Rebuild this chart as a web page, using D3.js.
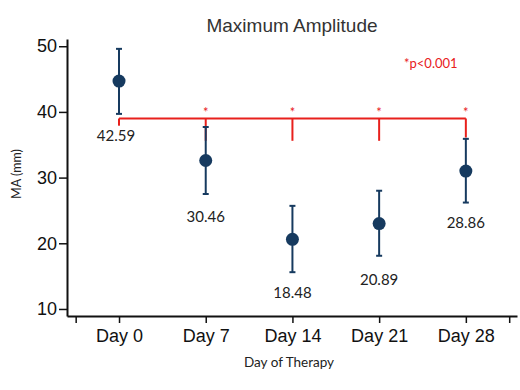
<!DOCTYPE html>
<html>
<head>
<meta charset="utf-8">
<script src="https://cdn.jsdelivr.net/npm/d3@7"></script>
<style>
  body { margin: 0; background: #fff; }
</style>
</head>
<body>
<div id="chart"></div>
<script>
// Data
const days = ['Day 0', 'Day 7', 'Day 14', 'Day 21', 'Day 28'];
const means = [44.7, 32.6, 20.6, 23.0, 31.0];
const errLow = [39.7, 27.5, 15.6, 18.1, 26.2];
const errHigh = [49.6, 37.7, 25.7, 28.0, 35.9];
const labels = ['42.59', '30.46', '18.48', '20.89', '28.86'];
const labelValues = [35.6, 23.2, 11.7, 13.65, 22.3];  // where each number label sits
const yTicks = [10, 20, 30, 40, 50];
const sigDays = [1, 2, 3, 4];       // days marked with *
const bracketValue = 39;
const dropValues = [37.9, 35.6, 35.6, 35.6, 36.1];  // where each bracket leg ends

const width = 520, height = 390;
const svg = d3.select('#chart').append('svg')
    .attr('width', width)
    .attr('height', height);

const x = d3.scaleLinear().domain([-0.6, 4.59]).range([67, 517]);
const y = d3.scaleLinear().domain([8.93, 51.1]).range([316, 39]);

const navy = '#163a5f';
const red = '#e8201c';

// Title
svg.append('text')
    .attr('x', 292).attr('y', 32)
    .attr('text-anchor', 'middle')
    .style('font-family', 'Liberation Sans, Arial, sans-serif')
    .style('font-size', '19px')
    .style('fill', '#333')
    .text('Maximum Amplitude');

// Y axis
const yAxis = svg.append('g')
    .attr('transform', 'translate(67,0)')
    .call(d3.axisLeft(y).tickValues(yTicks).tickSize(8).tickSizeOuter(0).tickPadding(2));
yAxis.select('.domain').attr('stroke', '#111').attr('stroke-width', 2);
yAxis.selectAll('.tick line').attr('stroke', '#111').attr('stroke-width', 1.5);
yAxis.selectAll('.tick text')
    .style('font-family', 'Liberation Sans, Arial, sans-serif')
    .style('font-size', '18px')
    .style('fill', '#111');

// X axis
const xTickVals = [-0.5, 0, 1, 2, 3, 4, 4.5];
const xAxis = svg.append('g')
    .attr('transform', 'translate(0,316)')
    .call(d3.axisBottom(x).tickValues(xTickVals).tickSize(7).tickSizeOuter(0).tickPadding(6)
        .tickFormat(d => Number.isInteger(d) ? days[d] : ''));
xAxis.select('.domain').attr('stroke', '#111').attr('stroke-width', 2);
xAxis.selectAll('.tick line').attr('stroke', '#111').attr('stroke-width', 1.5);
xAxis.selectAll('.tick text')
    .style('font-family', 'Liberation Sans, Arial, sans-serif')
    .style('font-size', '18px')
    .style('fill', '#111');

// Axis titles
svg.append('text')
    .attr('transform', 'translate(21,174) rotate(-90)')
    .attr('text-anchor', 'middle')
    .style('font-family', 'Lato, Open Sans, sans-serif')
    .style('font-size', '12.5px')
    .style('fill', '#222')
    .text('MA (mm)');

svg.append('text')
    .attr('x', 289).attr('y', 367)
    .attr('text-anchor', 'middle')
    .style('font-family', 'Lato, Open Sans, sans-serif')
    .style('font-size', '13.5px')
    .style('fill', '#222')
    .text('Day of Therapy');

// Significance bracket
svg.append('line')
    .attr('x1', x(0)).attr('x2', x(4))
    .attr('y1', y(bracketValue)).attr('y2', y(bracketValue))
    .attr('stroke', red).attr('stroke-width', 2);
svg.selectAll('line.leg')
    .data(d3.range(days.length))
    .enter().append('line')
    .attr('class', 'leg')
    .attr('x1', i => x(i)).attr('x2', i => x(i))
    .attr('y1', y(bracketValue)).attr('y2', i => y(dropValues[i]))
    .attr('stroke', red).attr('stroke-width', 2);
svg.selectAll('text.star')
    .data(sigDays)
    .enter().append('text')
    .attr('class', 'star')
    .attr('x', i => x(i)).attr('y', y(bracketValue) - 1)
    .attr('text-anchor', 'middle')
    .style('font-family', 'Lato, sans-serif')
    .style('font-size', '13px')
    .style('fill', red)
    .text('*');

svg.append('text')
    .attr('x', 404).attr('y', 68)
    .style('font-family', 'Lato, Open Sans, sans-serif')
    .style('font-size', '13px')
    .style('fill', red)
    .text('*p<0.001');

// Error bars
const bars = svg.selectAll('g.err')
    .data(d3.range(days.length))
    .enter().append('g')
    .attr('class', 'err');
bars.append('line')
    .attr('x1', i => x(i)).attr('x2', i => x(i))
    .attr('y1', i => y(errLow[i])).attr('y2', i => y(errHigh[i]))
    .attr('stroke', navy).attr('stroke-width', 2);
bars.append('line')
    .attr('x1', i => x(i) - 3).attr('x2', i => x(i) + 3)
    .attr('y1', i => y(errLow[i])).attr('y2', i => y(errLow[i]))
    .attr('stroke', navy).attr('stroke-width', 2);
bars.append('line')
    .attr('x1', i => x(i) - 3).attr('x2', i => x(i) + 3)
    .attr('y1', i => y(errHigh[i])).attr('y2', i => y(errHigh[i]))
    .attr('stroke', navy).attr('stroke-width', 2);

// Means
svg.selectAll('circle.mean')
    .data(means)
    .enter().append('circle')
    .attr('class', 'mean')
    .attr('cx', (d, i) => x(i))
    .attr('cy', d => y(d))
    .attr('r', 6.5)
    .attr('fill', navy);

// Value labels
svg.selectAll('text.val')
    .data(labels)
    .enter().append('text')
    .attr('class', 'val')
    .attr('x', (d, i) => x(i) - (i === 0 ? 3 : 0))
    .attr('y', (d, i) => y(labelValues[i]))
    .attr('text-anchor', 'middle')
    .style('font-family', 'Lato, Open Sans, sans-serif')
    .style('font-size', '15px')
    .style('fill', '#222')
    .text(d => d);
</script>
</body>
</html>
